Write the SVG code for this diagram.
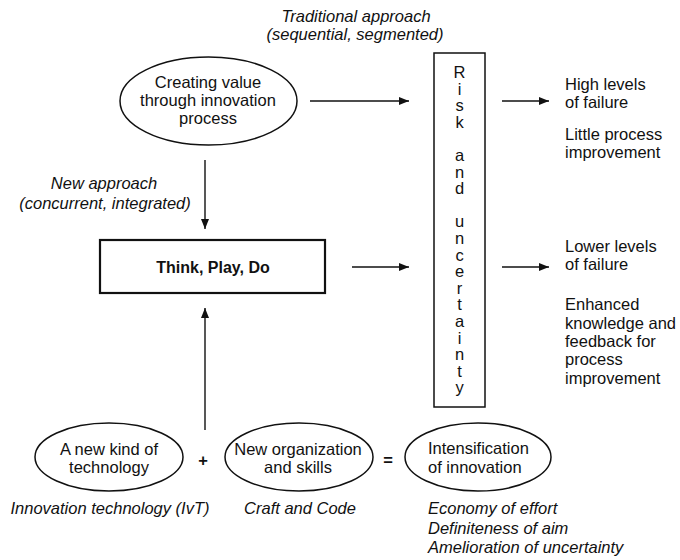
<svg xmlns="http://www.w3.org/2000/svg" width="680" height="560" viewBox="0 0 680 560">
  <style>
    text { font-family: "Liberation Sans", Arial, sans-serif; font-size: 16.5px; fill: #111; }
    .c { text-anchor: middle; }
    .it { font-style: italic; }
    .b { font-weight: bold; }
    .shape { fill: #fff; stroke: #111; stroke-width: 1.5; }
    .heavy { fill: #fff; stroke: #111; stroke-width: 2.2; }
    .link { fill: none; stroke: #111; stroke-width: 1.4; marker-end: url(#head); }
  </style>
  <defs>
    <marker id="head" viewBox="0 0 10 8" refX="10" refY="4" markerWidth="10" markerHeight="8" markerUnits="userSpaceOnUse" orient="auto">
      <path d="M0,0 L10,4 L0,8 Z" fill="#111"/>
    </marker>
  </defs>
  <rect width="680" height="560" fill="#fff"/>

  <!-- connectors -->
  <g id="connectors">
    <line class="link" x1="310" y1="101" x2="409" y2="101"/>
    <line class="link" x1="502" y1="101" x2="549" y2="101"/>
    <line class="link" x1="352" y1="267" x2="409" y2="267"/>
    <line class="link" x1="502" y1="267" x2="549" y2="267"/>
    <line class="link" x1="205" y1="160" x2="205" y2="229"/>
    <line class="link" x1="205" y1="430" x2="205" y2="308"/>
  </g>

  <!-- labels on the two routes -->
  <g id="traditional-label">
    <text class="c it" x="356" y="22">Traditional approach</text>
    <text class="c it" x="355" y="40">(sequential, segmented)</text>
  </g>
  <g id="new-label">
    <text class="c it" x="104" y="189">New approach</text>
    <text class="c it" x="105" y="209">(concurrent, integrated)</text>
  </g>

  <g id="creating-value">
    <ellipse class="shape" cx="208.5" cy="101" rx="88.5" ry="44"/>
    <text class="c" x="208" y="88">Creating value</text>
    <text class="c" x="208" y="106">through innovation</text>
    <text class="c" x="208" y="124">process</text>
  </g>

  <g id="think-play-do">
    <rect class="heavy" x="100" y="240" width="225" height="53"/>
    <text class="c b" x="213" y="273" style="font-size:16px">Think, Play, Do</text>
  </g>

  <g id="risk">
    <rect class="shape" x="434" y="53" width="51" height="354"/>
    <g class="c">
      <text class="c" x="459.5" y="78">R</text>
      <text class="c" x="459.5" y="94.6">i</text>
      <text class="c" x="459.5" y="111.2">s</text>
      <text class="c" x="459.5" y="127.8">k</text>
      <text class="c" x="459.5" y="161">a</text>
      <text class="c" x="459.5" y="177.6">n</text>
      <text class="c" x="459.5" y="194.2">d</text>
      <text class="c" x="459.5" y="227.4">u</text>
      <text class="c" x="459.5" y="244">n</text>
      <text class="c" x="459.5" y="260.6">c</text>
      <text class="c" x="459.5" y="277.2">e</text>
      <text class="c" x="459.5" y="293.8">r</text>
      <text class="c" x="459.5" y="310.4">t</text>
      <text class="c" x="459.5" y="327">a</text>
      <text class="c" x="459.5" y="343.6">i</text>
      <text class="c" x="459.5" y="360.2">n</text>
      <text class="c" x="459.5" y="376.8">t</text>
      <text class="c" x="459.5" y="393.4">y</text>
    </g>
  </g>

  <g id="traditional-outcome">
    <text x="565" y="90">High levels</text>
    <text x="565" y="107.5">of failure</text>
    <text x="565" y="140">Little process</text>
    <text x="565" y="157.5">improvement</text>
  </g>

  <g id="new-outcome">
    <text x="565" y="252">Lower levels</text>
    <text x="565" y="270">of failure</text>
    <text x="565" y="310">Enhanced</text>
    <text x="565" y="328.5">knowledge and</text>
    <text x="565" y="347">feedback for</text>
    <text x="565" y="365">process</text>
    <text x="565" y="383.5">improvement</text>
  </g>

  <g id="technology">
    <ellipse class="shape" cx="109" cy="457" rx="74" ry="34"/>
    <text class="c" x="109" y="455">A new kind of</text>
    <text class="c" x="109" y="473">technology</text>
    <text class="c it" x="110" y="514">Innovation technology (IvT)</text>
  </g>

  <text class="c b" x="203" y="466">+</text>

  <g id="organization">
    <ellipse class="shape" cx="299" cy="457" rx="74" ry="34"/>
    <text class="c" x="298" y="455">New organization</text>
    <text class="c" x="298" y="473">and skills</text>
    <text class="c it" x="300" y="514">Craft and Code</text>
  </g>

  <text class="c b" x="388" y="466">=</text>

  <g id="intensification">
    <ellipse class="shape" cx="478" cy="457" rx="73" ry="34"/>
    <text x="428" y="454">Intensification</text>
    <text x="428" y="473">of innovation</text>
    <text class="it" x="428" y="514">Economy of effort</text>
    <text class="it" x="428" y="533.5">Definiteness of aim</text>
    <text class="it" x="428" y="553">Amelioration of uncertainty</text>
  </g>
</svg>
